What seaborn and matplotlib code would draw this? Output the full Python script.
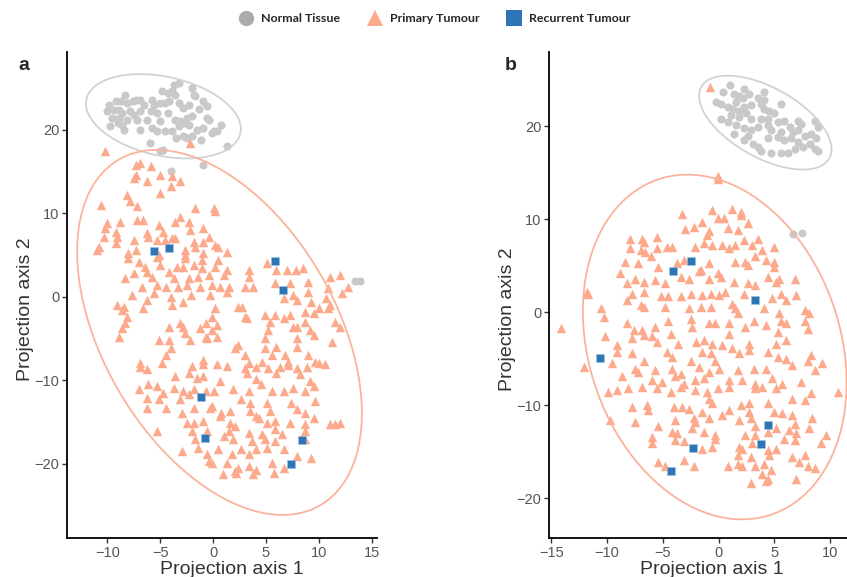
import numpy as np
import pandas as pd
import seaborn as sns
import matplotlib.pyplot as plt
from matplotlib.lines import Line2D

sns.set_style("ticks")
plt.rcParams['font.family'] = ['Liberation Sans', 'DejaVu Sans']

groups = ["Normal Tissue", "Primary Tumour", "Recurrent Tumour"]
palette = {"Normal Tissue": "#C9C9C9", "Primary Tumour": "#FDAA8C", "Recurrent Tumour": "#2E75B6"}
ellipse_colors = {"Normal Tissue": "#D2D2D2", "Primary Tumour": "#FBB39B"}
markers = {"Normal Tissue": "o", "Primary Tumour": "^", "Recurrent Tumour": "s"}
msizes = {"Normal Tissue": 34, "Primary Tumour": 46, "Recurrent Tumour": 30}

# ---------------- panel a ----------------
a_normal = [(-3.7,25.4),(-3.25,25.6),(-3.9,24.6),(-2.0,25.0),(-4.3,24.4),(-3.6,24.2),(-1.8,24.2),(-1.7,24.0),
    (-8.3,24.2),(-8.7,23.4),(-9.2,23.4),(-9.8,23.0),(-8.1,23.2),(-7.6,23.4),(-7.3,23.6),(-6.9,23.6),(-5.8,23.6),
    (-5.6,23.0),(-5.0,23.2),(-4.5,23.2),(-4.2,23.4),(-3.2,23.2),(-2.3,23.0),(-0.9,23.4),(-0.6,22.8),(-10.0,22.2),
    (-9.4,22.4),(-8.9,22.4),(-8.6,22.0),(-7.8,22.2),(-6.9,22.2),(-5.9,22.2),(-5.3,22.0),(-4.3,22.0),(-9.5,21.4),
    (-8.9,21.4),(-8.1,21.2),(-7.2,21.2),(-6.2,21.2),(-5.0,21.0),(-3.6,21.2),(-3.1,21.0),(-2.5,21.4),(-2.0,21.6),
    (-0.6,21.4),(-0.4,21.2),(-9.7,20.4),(-8.6,20.6),(-8.4,20.0),(-6.9,20.0),(-5.8,20.2),(-5.3,19.8),(-4.5,19.8),
    (-3.9,19.8),(-3.2,20.4),(-2.6,20.8),(-2.3,20.6),(-1.5,20.0),(-0.9,20.2),(-0.1,19.6),(0.4,19.8),(-6.0,18.4),
    (-4.7,17.6),(-5.0,17.4),(-2.8,19.2),(-2.5,19.0),(-2.0,19.2),(-1.1,18.8),(0.05,19.8),(-7.5,21.8),(-6.5,23.0),
    (-4.8,24.6),(-1.3,22.5),(-2.8,22.6),(0.8,20.6),(-9.0,20.8),(-3.5,19.0),(1.3,18.1),(-0.9,15.8),(-4.0,15.0),
    (13.4,1.9),(13.9,1.9)]

a_primary = [(-10.2,17.4),(-2.2,18.4),
    (-6.9,16.0),(-7.3,15.8),(-5.9,15.6),(-7.3,14.6),(-7.5,14.2),(-5.0,14.6),(-3.9,14.4),(-3.1,13.8),(-6.2,13.8),
    (-4.0,13.2),(-5.0,12.4),(-8.1,12.2),(-7.8,11.4),(-7.2,10.8),(-10.6,11.0),(-1.7,10.6),(0.05,10.6),(0.2,10.2),
    (-10.0,8.8),(-10.2,8.2),(-8.8,9.0),(-7.2,9.2),(-6.6,9.2),(-5.1,8.6),(-3.6,9.0),(-3.1,9.6),(-2.3,9.0),(-2.2,8.0),
    (-0.9,8.2),(-10.3,7.2),(-9.2,7.8),(-9.1,7.2),(-9.2,6.4),(-10.8,6.0),(-11.0,5.6),(-7.5,6.8),(-6.2,7.6),(-6.1,7.2),
    (-5.3,6.8),(-4.7,7.8),(-4.5,6.8),(-3.9,7.0),(-3.6,7.0),(-2.6,5.6),(-1.8,6.6),(-1.7,6.0),(-0.9,6.6),(-0.4,7.2),
    (0.2,6.2),(0.5,6.0),(1.3,5.4),(-8.0,5.2),(-7.3,5.6),(-5.1,5.0),(-2.6,5.0),(-0.9,5.2),
    (-8.0,4.6),(-7.0,4.2),(-5.3,4.8),(-2.6,4.6),(-1.0,4.4),(0.5,4.4),(-6.4,3.6),(-5.0,3.8),(-3.4,3.6),(-2.8,3.6),
    (-1.8,3.8),(-1.0,3.4),(0.2,3.6),(1.3,3.2),(3.4,3.2),(5.1,4.0),(6.0,3.2),(7.0,3.2),(7.8,3.2),(8.5,3.4),
    (-8.3,2.2),(-7.5,2.8),(-6.2,3.0),(-5.8,2.4),(-4.2,3.0),(-3.7,2.2),(-2.3,2.2),(-1.4,2.4),(-0.4,2.6),(1.0,2.6),
    (3.4,2.4),(5.9,1.6),(7.3,1.6),(9.0,1.8),(11.1,2.4),(12.0,2.6),
    (-6.7,1.2),(-5.3,1.4),(-4.4,1.2),(-3.3,1.2),(-2.5,1.4),(-1.2,1.2),(-0.1,1.4),(0.7,1.2),(1.5,1.2),(3.0,1.2),
    (3.8,1.2),(7.6,0.2),(9.0,0.6),(10.9,1.0),(12.8,1.2),(12.2,0.4),
    (-7.7,0.2),(-5.6,0.4),(-4.0,0.0),(-2.1,0.2),(-0.3,0.2),(1.3,0.6),(6.7,-0.2),(7.9,-0.4),(9.3,-0.6),(10.7,-0.2),
    (11.1,-1.0),(-9.1,-1.0),(-8.4,-1.2),(-6.6,-1.4),(-6.2,-0.4),(-3.9,-1.0),(-2.8,-0.6),(0.2,-1.4),(2.4,-1.2),
    (2.7,-1.2),(8.7,-1.8),(10.0,-1.4),(10.9,-1.4),
    (-8.6,-1.6),(-8.1,-2.4),(-0.1,-2.4),(3.0,-2.4),(4.9,-2.2),(5.9,-2.2),(7.3,-2.2),(9.5,-2.0),
    (-8.3,-3.2),(-3.1,-3.2),(-0.7,-3.2),(0.4,-3.4),(3.2,-2.6),(5.4,-3.0),(6.7,-2.6),(7.6,-3.6),(8.7,-3.0),(11.5,-3.0),
    (-8.6,-3.8),(-4.2,-3.6),(-2.8,-3.6),(-1.2,-3.8),(-0.1,-4.0),(5.2,-4.0),(7.9,-3.6),(9.2,-4.0),(12.0,-3.6),
    (-8.9,-4.8),(-5.1,-5.2),(-4.2,-5.2),(-2.6,-4.4),(-2.2,-5.2),(-0.7,-4.8),(-0.6,-5.0),(0.4,-4.8),(4.9,-5.0),
    (7.9,-5.0),(9.5,-4.6),(11.2,-5.4),
    (-4.0,-6.2),(2.1,-6.2),(2.4,-5.8),(4.9,-6.2),(6.0,-6.0),(7.9,-6.0),(-4.4,-7.0),(-0.9,-7.6),(3.0,-7.0),(5.6,-7.0),
    (6.8,-7.0),(9.0,-7.0),(9.6,-7.8),(-6.9,-8.0),(3.4,-8.0),(4.6,-7.8),(7.1,-7.8),
    (-6.9,-8.4),(-6.2,-8.7),(-4.8,-7.9),(-2.0,-8.3),(-0.9,-8.1),(0.4,-8.1),(1.3,-8.3),(3.0,-8.6),(4.1,-8.4),
    (5.2,-8.5),(6.3,-8.4),(7.1,-8.2),(7.9,-8.6),(8.9,-8.4),(10.0,-7.9),(10.6,-8.1),
    (-3.6,-9.5),(-2.3,-9.1),(-1.5,-9.7),(-0.9,-9.5),(0.7,-10.1),(3.2,-9.1),(4.1,-9.9),(6.0,-9.1),(8.2,-9.3),(9.2,-10.1),
    (-7.0,-11.1),(-6.1,-10.5),(-5.3,-10.7),(-4.7,-11.5),(-3.7,-10.9),(-2.8,-11.3),(-1.8,-11.1),(-0.7,-11.3),
    (0.05,-11.3),(1.9,-11.1),(3.4,-11.3),(4.5,-10.5),(5.6,-11.3),(6.7,-11.3),(7.6,-10.9),(8.7,-11.3),(9.5,-10.7),
    (-6.2,-12.1),(-5.1,-12.3),(-3.1,-12.3),(-2.3,-11.7),(-0.1,-13.1),(2.6,-12.3),(3.5,-12.7),(5.1,-12.7),(7.4,-12.7),
    (9.6,-12.5),
    (-6.2,-13.3),(-4.4,-13.3),(-2.9,-13.9),(-1.8,-13.3),(-0.3,-13.3),(0.8,-13.9),(1.6,-13.7),(3.5,-13.7),(4.1,-14.3),
    (5.4,-13.7),(7.9,-13.5),(8.7,-13.9),(9.5,-14.5),
    (-2.5,-15.1),(-1.8,-15.1),(-0.9,-14.9),(0.7,-14.3),(1.6,-15.1),(2.1,-15.5),(4.3,-14.5),(5.1,-15.1),(5.9,-14.9),
    (7.3,-15.1),(8.7,-15.3),(11.1,-15.3),(11.5,-15.3),(12.0,-15.1),
    (-5.3,-16.1),(-2.0,-16.1),(-0.6,-16.1),(1.0,-16.7),(1.5,-16.1),(3.4,-16.3),(4.6,-16.5),(5.9,-15.9),(6.5,-16.5),
    (8.7,-16.1),(-1.7,-17.1),(1.9,-17.1),(3.7,-17.3),(4.9,-17.1),(5.9,-17.3),(8.7,-17.1),
    (-2.9,-18.5),(-1.4,-18.1),(-0.6,-18.9),(0.5,-18.3),(1.8,-18.9),(2.6,-18.3),(3.4,-18.9),(4.1,-18.3),(5.1,-18.1),
    (6.7,-18.3),(7.9,-19.1),(9.3,-19.3),
    (-0.4,-19.7),(-0.1,-19.9),(1.3,-19.9),(2.4,-20.5),(3.4,-20.3),(4.1,-20.7),(5.6,-19.9),(6.7,-20.5),(2.1,-20.9),
    (0.9,-21.2),(2.2,-21.1),(3.8,-21.2),(5.8,-21.1)]

a_recurrent = [(-5.6,5.5),(-4.2,5.8),(5.9,4.3),(6.6,0.8),(-1.1,-12.0),(-0.8,-16.9),(8.4,-17.2),(7.4,-20.0)]

# ---------------- panel b ----------------
b_normal = [(1.04,24.4),(2.3,24.0),(0.35,23.7),(1.4,23.5),(1.85,23.3),(2.75,23.5),(3.5,23.1),(4.1,22.8),(5.6,22.4),
    (-0.25,22.6),(0.2,22.4),(0.8,22.1),(1.25,21.9),(1.85,21.7),(2.3,22.1),(2.9,22.3),(3.8,22.4),(4.1,21.9),
    (4.55,21.7),(5.0,21.4),(0.2,20.8),(1.1,21.2),(1.85,21.0),(2.45,21.4),(2.9,20.8),(3.8,20.8),(4.4,20.8),(5.3,20.5),
    (5.9,20.6),(7.1,20.6),(7.4,20.3),(8.6,20.6),(8.9,19.9),(0.8,20.5),(1.55,20.1),(2.3,19.8),(2.9,19.6),(3.5,19.9),
    (4.4,20.1),(4.7,19.6),(5.6,19.4),(6.35,19.9),(6.65,19.4),(7.1,19.6),(7.7,19.0),(8.3,19.2),(8.75,18.7),(1.4,19.2),
    (2.3,18.5),(3.05,18.1),(3.5,17.8),(3.8,17.4),(4.7,17.1),(5.6,17.1),(6.2,17.1),(6.8,17.6),(7.1,18.3),(7.55,17.8),
    (8.15,18.1),(8.6,17.6),(8.9,17.4),(5.9,18.5),(5.3,18.9),(6.5,18.7),(4.4,18.7),(2.6,19.0),(2.15,23.0),(1.55,22.6),
    (4.1,23.7),(6.7,8.4),(7.5,8.5)]

b_primary = [(-0.8,24.2),(-0.1,14.7),(-0.1,14.3),
    (-3.3,10.6),(-0.6,11.0),(1.2,11.1),(2.0,10.8),(2.0,10.5),(-0.1,10.1),(0.5,10.1),(-1.5,9.7),(-3.0,9.0),(-2.2,9.2),
    (-0.9,8.7),(-1.0,8.3),(0.85,9.1),(1.75,8.8),(2.6,9.6),(-7.9,7.9),(-6.9,7.9),(-6.7,7.6),(-5.5,8.1),(-7.9,6.9),
    (-7.0,6.7),(-6.6,6.5),(-5.5,6.9),(-4.6,7.0),(-4.2,7.0),(-2.1,7.0),(-1.3,7.4),(-0.6,7.2),(0.3,7.2),(0.9,6.9),
    (1.5,7.2),(2.3,7.8),(3.0,7.2),(3.5,7.9),(3.9,6.7),(5.0,7.0),(-8.4,5.4),(-7.2,5.3),(-6.1,6.0),(-5.4,4.9),
    (-3.7,5.3),(-3.1,5.6),(-1.6,4.5),(-0.9,5.3),(1.5,5.4),(2.4,5.4),(2.6,5.1),(3.3,6.0),(4.2,5.6),(5.0,5.4),(5.0,4.9),
    (-8.8,4.2),(-8.2,3.1),(-7.5,3.6),(-6.7,3.3),(-5.7,3.5),(-4.8,3.1),(-3.4,3.8),(-2.7,3.6),(-1.8,4.4),(-0.9,3.6),
    (-0.1,4.2),(0.2,3.8),(1.4,3.3),(2.6,3.1),(3.3,2.9),(4.4,3.8),(5.1,3.3),(5.4,3.6),(6.8,3.6),(-11.8,2.2),
    (-11.7,2.0),(-7.8,2.0),(-6.7,2.2),(-5.2,1.7),(-4.5,1.7),(-3.4,1.7),(-2.5,2.0),(-1.5,1.8),(-0.7,2.0),(0.0,1.8),
    (0.6,2.2),(2.3,2.0),(4.8,1.5),(5.6,2.0),(6.0,1.3),(6.9,1.8),(-8.2,1.3),(-7.0,0.8),(-6.7,0.6),(-4.8,0.6),
    (-2.7,0.4),(-1.6,0.6),(-0.7,0.6),(1.2,0.9),(1.7,-0.1),(1.5,0.4),(4.1,0.4),(5.4,-0.1),(7.7,0.2),(8.1,-0.1),
    (-10.5,0.4),(-10.3,-0.5),(-14.1,-1.7),(-8.2,-1.2),(-7.6,-1.9),(-6.9,-1.9),(-6.7,-2.5),(-5.7,-1.6),(-4.5,-1.0),
    (-4.3,-2.3),(-2.5,-0.7),(-2.4,-1.6),(-0.9,-1.2),(-0.3,-1.2),(0.9,-1.2),(0.9,-2.3),(2.4,-1.6),(3.2,-0.9),
    (4.2,-1.4),(5.6,-1.0),(6.0,-1.2),(7.7,-1.0),(8.0,-1.8),(5.3,-2.1),(-10.2,-2.6),(-9.1,-3.5),(-7.8,-2.8),
    (-6.0,-2.6),(-5.5,-3.2),(-3.6,-3.4),(-2.0,-3.2),(-1.3,-3.0),(-0.6,-3.4),(0.3,-3.5),(1.2,-3.9),(2.7,-3.4),
    (5.1,-3.4),(6.0,-3.0),(-9.1,-4.3),(-7.8,-4.4),(-6.7,-5.2),(-4.6,-4.3),(-4.2,-4.8),(-2.5,-5.2),(-1.5,-4.3),
    (-0.7,-4.4),(-0.3,-5.2),(1.8,-4.4),(2.7,-4.1),(4.4,-4.3),(5.3,-4.8),(6.0,-5.0),(8.3,-4.6),(9.3,-5.5),(8.0,-5.3),
    (-9.6,-5.5),(-7.5,-6.1),(-7.2,-6.4),(-5.7,-6.2),(-4.2,-6.1),(-3.4,-6.6),(-1.8,-5.9),(-0.9,-6.4),(0.0,-6.1),
    (1.7,-6.2),(3.2,-6.1),(4.2,-6.1),(6.6,-5.7),(8.6,-6.2),(-12.1,-5.9),(-8.7,-6.9),(-6.0,-7.3),(-5.1,-7.5),
    (-3.9,-6.9),(-3.1,-7.7),(-2.1,-7.3),(-1.3,-7.1),(0.9,-7.3),(2.1,-7.3),(3.3,-7.7),(4.8,-7.1),(5.7,-7.7),(7.4,-7.5),
    (-9.9,-8.6),(-9.1,-8.4),(-8.1,-8.2),(-6.9,-8.0),(-5.5,-8.2),(-4.3,-8.6),(-3.4,-8.0),(-2.1,-8.4),(-1.0,-8.6),
    (-0.1,-8.2),(0.9,-8.0),(3.3,-8.2),(3.9,-8.0),(5.1,-8.2),(6.6,-9.3),(7.7,-9.5),(8.3,-8.7),(10.7,-8.6),
    (-7.8,-10.2),(-6.4,-10.0),(-6.3,-10.5),(-4.0,-10.2),(-3.3,-10.2),(-2.7,-10.4),(-1.5,-10.7),(-0.9,-9.3),
    (-0.6,-9.8),(0.9,-10.5),(2.0,-10.0),(2.7,-9.8),(2.7,-10.7),(4.4,-9.8),(5.0,-10.7),(5.7,-10.9),(6.6,-11.1),
    (-9.7,-11.6),(-7.5,-11.8),(-3.9,-11.6),(-2.2,-11.4),(-2.1,-11.8),(-0.9,-11.4),(0.3,-11.1),(1.8,-11.6),
    (2.9,-11.4),(3.3,-12.3),(5.1,-12.5),(6.3,-12.7),(8.1,-12.5),(8.4,-11.4),(6.8,-12.0),(-5.4,-12.3),(-4.2,-12.9),
    (-3.7,-13.0),(-2.4,-12.5),(-1.3,-12.9),(-0.3,-13.2),(2.4,-13.2),(3.3,-13.2),(4.4,-12.9),(5.9,-13.6),(6.9,-13.0),
    (9.6,-13.2),(-6.0,-13.4),(-6.0,-14.1),(-3.9,-13.8),(-3.1,-13.9),(-1.5,-14.7),(-0.6,-14.5),(-0.3,-13.6),
    (1.8,-14.5),(2.1,-14.7),(3.0,-14.1),(4.4,-14.8),(5.1,-14.7),(6.8,-13.8),(9.2,-14.1),(1.7,-15.4),(2.9,-15.6),
    (4.5,-15.4),(6.6,-15.6),(7.7,-15.4),(-5.4,-16.1),(-4.8,-16.5),(-3.1,-15.9),(-2.2,-16.6),(0.8,-16.5),(1.7,-16.3),
    (2.1,-16.6),(3.3,-16.5),(4.1,-16.3),(4.7,-17.0),(7.2,-16.1),(8.0,-16.5),(8.6,-16.8),(3.9,-17.4),(4.4,-17.9),
    (6.9,-17.9),(2.9,-18.4),(4.2,-18.2)]

b_recurrent = [(-4.1,4.4),(-2.5,5.5),(3.3,1.3),(-10.6,-4.9),(4.4,-12.1),(3.8,-14.2),(-2.3,-14.6),(-4.3,-17.1)]

panels = {
    "a": {"Normal Tissue": a_normal, "Primary Tumour": a_primary, "Recurrent Tumour": a_recurrent},
    "b": {"Normal Tissue": b_normal, "Primary Tumour": b_primary, "Recurrent Tumour": b_recurrent},
}

rows = []
for p, d in panels.items():
    for g, pts in d.items():
        for x, y in pts:
            rows.append({"panel": p, "group": g, "x": x, "y": y})
df = pd.DataFrame(rows)


def cov_trob(X, nu=5, maxit=50, tol=1e-4):
    n, p = X.shape
    w = np.ones(n)
    loc = X.mean(axis=0)
    for _ in range(maxit):
        w0 = w
        Xc = X - loc
        S = (w[:, None] * Xc).T @ Xc / w.sum()
        Q = np.einsum('ij,jk,ik->i', Xc, np.linalg.inv(S), Xc)
        w = (nu + p) / (nu + Q)
        loc = (w[:, None] * X).sum(axis=0) / w.sum()
        if np.all(np.abs(w - w0) < tol):
            break
    Xc = X - loc
    cov = (w[:, None] * Xc).T @ Xc / n
    return loc, cov


def ellipse_xy(X, level=0.95, segments=100):
    loc, cov = cov_trob(X)
    n = len(X)
    d2 = n - 1
    fq = d2 / 2.0 * ((1 - level) ** (-2.0 / d2) - 1)
    radius = np.sqrt(2 * fq)
    t = np.linspace(0, 2 * np.pi, segments + 1)
    circ = np.column_stack([np.cos(t), np.sin(t)])
    L = np.linalg.cholesky(cov)
    pts = loc + radius * circ @ L.T
    return pts[:, 0], pts[:, 1]


fig = plt.figure(figsize=(8.47, 5.77), dpi=100)
axa = fig.add_axes([67/847, 1 - 538/577, 310/847, 486/577])
axb = fig.add_axes([549/847, 1 - 538/577, 298/847, 486/577])

limits = {"a": ((-13.8, 15.5), (-28.9, 29.3), [-10, -5, 0, 5, 10, 15]),
          "b": ((-15.2, 11.5), (-24.3, 28.0), [-15, -10, -5, 0, 5, 10])}
label_pos = {"a": ((0.532, -0.048), (-0.108, 0.47)),
             "b": ((0.547, -0.048), (-0.11, 0.45))}

for p, ax in (("a", axa), ("b", axb)):
    sub = df[df.panel == p]
    for g in groups:
        sg = sub[sub.group == g]
        sns.scatterplot(data=sg, x="x", y="y", marker=markers[g], color=palette[g],
                        s=msizes[g], linewidth=0.4 if g == "Recurrent Tumour" else 0,
                        edgecolor="#9CC3E6", ax=ax, legend=False, zorder=3 if g == "Recurrent Tumour" else 2)
    for g in ["Normal Tissue", "Primary Tumour"]:
        sg = sub[sub.group == g]
        ex, ey = ellipse_xy(sg[["x", "y"]].to_numpy())
        ax.plot(ex, ey, color=ellipse_colors[g], lw=1.3, zorder=4)
    xl, yl, xt = limits[p]
    ax.set_xlim(*xl)
    ax.set_ylim(*yl)
    ax.set_xticks(xt)
    ax.set_yticks([-20, -10, 0, 10, 20])
    ax.set_xlabel("Projection axis 1", fontsize=14, color="#333333")
    ax.set_ylabel("Projection axis 2", fontsize=14, color="#333333")
    ax.xaxis.set_label_coords(*label_pos[p][0])
    ax.yaxis.set_label_coords(*label_pos[p][1])
    for s in ("top", "right"):
        ax.spines[s].set_visible(False)
    for s in ("left", "bottom"):
        ax.spines[s].set_color("black")
        ax.spines[s].set_linewidth(1.3)
    ax.tick_params(axis="both", length=3.5, width=1.0, color="#333333",
                   labelsize=10.5, labelcolor="#555555", pad=2)
    ax.set_facecolor("white")

fig.text(18/847, 1 - 66/577, "a", fontsize=14, fontweight="bold", ha="left", va="center")
fig.text(505/847, 1 - 66/577, "b", fontsize=14, fontweight="bold", ha="left", va="center")

handles = [Line2D([], [], marker=markers[g], linestyle="none", markersize=11,
                  markerfacecolor=palette[g] if g != "Normal Tissue" else "#ABABAB",
                  markeredgewidth=0, label=g) for g in groups]
fig.legend(handles=handles, loc="center", bbox_to_anchor=(0.51, 0.968), ncol=3,
           frameon=False, handletextpad=0.2, columnspacing=1.8,
           prop={"family": ["Lato", "DejaVu Sans"], "weight": "bold", "size": 8.9})

fig.savefig("out.png", dpi=100, facecolor="white")
